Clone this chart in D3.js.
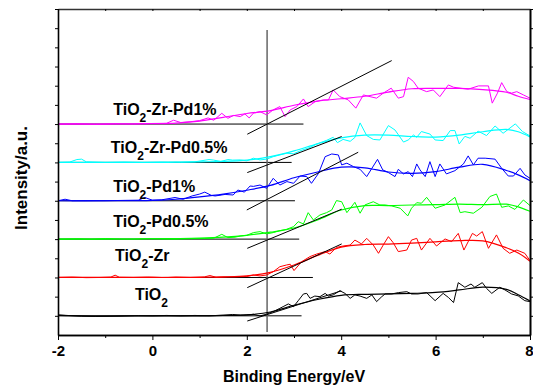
<!DOCTYPE html>
<html><head><meta charset="utf-8">
<script src="https://cdn.jsdelivr.net/npm/d3@7"></script>
<style>body{margin:0;background:#fff}svg{display:block}</style>
</head><body>
<svg id="c" width="533" height="392"></svg>
<script>
// ---------- data ----------
const xMajorTicks = [-2, 0, 2, 4, 6, 8];
const xMinorTicks = [-1, 1, 3, 5, 7];
const yTicks = [1,2,3,4,5,6,7,8,9,10,11,12,13,14,15,16,17];
const seriesNames = ["TiO2", "TiO2-Zr", "TiO2-Pd0.5%", "TiO2-Pd1%", "TiO2-Zr-Pd0.5%", "TiO2-Zr-Pd1%"];
const seriesColors = ["#000000", "#ff0000", "#00ff00", "#0000ff", "#00ffff", "#ff00ff"];

// smooth fit curves on a shared energy grid
const smoothX = [-2,-1,0,0.5,1,1.5,2,2.5,3,3.5,4,4.5,5,5.5,6,6.5,7,7.5,7.75,8];
const smoothTiO2     = [1.02,0.98,1.0,1.0,1.0,1.02,1.05,1.2,1.55,1.85,2.07,2.12,2.14,2.17,2.22,2.35,2.5,2.38,2.1,1.78];
const smoothZr       = [3.0,3.0,3.0,3.0,3.01,3.03,3.08,3.27,3.65,4.15,4.58,4.72,4.74,4.79,4.86,4.92,4.91,4.55,4.28,3.85];
const smoothPd05     = [5.0,5.0,5.02,5.03,5.05,5.1,5.2,5.36,5.58,6.0,6.52,6.75,6.75,6.78,6.8,6.83,6.8,6.82,6.68,6.45];
const smoothPd1      = [7.0,7.0,7.02,7.08,7.2,7.35,7.55,7.8,8.2,8.5,8.75,8.72,8.5,8.43,8.52,8.75,8.9,8.58,8.35,8.05];
const smoothZrPd05   = [9.0,9.0,9.0,9.01,9.03,9.05,9.12,9.3,9.6,9.97,10.28,10.42,10.42,10.35,10.32,10.42,10.6,10.72,10.6,10.33];
const smoothZrPd1    = [11.0,11.0,11.02,11.05,11.15,11.35,11.55,11.7,11.98,12.2,12.32,12.45,12.67,12.84,12.86,12.86,12.8,12.66,12.45,12.28];

// measured (noisy) spectra: [energy, intensity]
const dataTiO2 = [[-2,1.05],[-1.8,1.02],[-1.5,0.98],[-1.2,0.97],[-0.9,0.98],[-0.6,1.0],[-0.3,1.01],[0,1.0],[0.3,1.02],[0.6,1.0],[0.9,1.02],[1.2,1.0],[1.5,1.03],[1.7,1.07],[1.86,1.04],[2.0,1.05],[2.14,1.08],[2.28,0.99],[2.42,1.09],[2.56,1.22],[2.7,1.39],[2.77,1.48],[2.88,1.62],[2.99,1.48],[3.09,1.79],[3.2,2.14],[3.27,2.17],[3.34,1.91],[3.44,2.03],[3.55,2.0],[3.66,2.17],[3.73,2.03],[3.83,2.09],[3.97,2.31],[4.08,2.17],[4.19,1.91],[4.29,2.09],[4.4,2.03],[4.54,1.91],[4.65,2.09],[4.75,1.74],[4.86,2.0],[4.93,2.14],[5.07,2.14],[5.21,2.21],[5.39,2.26],[5.49,2.14],[5.63,2.14],[5.81,2.21],[5.99,1.79],[6.16,2.17],[6.27,1.96],[6.38,1.69],[6.48,2.73],[6.62,2.49],[6.75,2.66],[6.83,2.49],[6.99,2.73],[7.08,2.43],[7.19,2.17],[7.36,2.49],[7.47,2.35],[7.61,2.14],[7.75,2.04],[7.89,1.79],[8.0,1.74]];
const dataZr = [[-2,3.0],[-1.7,3.02],[-1.4,2.99],[-1.1,3.0],[-0.88,3.02],[-0.79,3.12],[-0.7,3.01],[-0.4,3.0],[-0.1,3.02],[0.2,3.0],[0.5,3.02],[0.8,3.0],[1.1,3.03],[1.22,3.1],[1.35,3.01],[1.6,3.03],[1.86,3.04],[2.0,3.05],[2.14,3.13],[2.28,3.08],[2.42,3.13],[2.56,3.3],[2.7,3.56],[2.84,3.65],[2.92,3.69],[3.0,3.36],[3.16,3.82],[3.34,4.09],[3.48,4.22],[3.66,4.35],[3.76,4.22],[3.9,4.57],[4.04,4.64],[4.19,4.69],[4.29,4.95],[4.43,4.75],[4.54,5.04],[4.68,4.69],[4.79,4.26],[4.89,4.69],[5.0,5.13],[5.1,4.82],[5.21,4.35],[5.39,4.43],[5.49,4.95],[5.6,5.04],[5.7,4.43],[5.88,5.04],[6.02,4.64],[6.2,5.01],[6.34,4.87],[6.48,5.3],[6.6,4.43],[6.78,5.3],[6.87,5.16],[6.99,5.39],[7.12,4.52],[7.29,5.22],[7.43,4.52],[7.57,4.26],[7.72,4.43],[7.89,4.26],[8.0,3.88]];
const dataPd05 = [[-2,5.0],[-1.6,5.02],[-1.3,5.0],[-1.0,5.03],[-0.7,5.01],[-0.4,5.0],[-0.1,5.02],[0.2,5.01],[0.5,5.0],[0.8,5.02],[1.1,5.03],[1.3,5.05],[1.47,5.25],[1.6,5.08],[1.75,5.1],[1.86,5.16],[2.0,5.2],[2.14,5.34],[2.28,5.39],[2.42,5.27],[2.56,5.34],[2.7,5.44],[2.84,5.51],[2.99,5.65],[3.09,5.91],[3.2,5.79],[3.3,6.38],[3.41,6.0],[3.55,6.26],[3.69,6.38],[3.8,6.52],[3.9,7.01],[4.01,6.95],[4.12,6.38],[4.29,6.92],[4.4,6.35],[4.5,6.78],[4.68,6.95],[4.82,6.78],[4.93,6.78],[5.07,6.73],[5.25,6.61],[5.41,6.21],[5.49,6.61],[5.6,6.9],[5.7,6.87],[5.81,7.18],[5.99,6.61],[6.2,6.78],[6.41,7.18],[6.52,6.38],[6.62,6.43],[6.8,6.35],[6.98,6.66],[7.15,7.22],[7.29,7.35],[7.4,6.66],[7.54,6.73],[7.68,6.55],[7.86,7.04],[8.0,6.75]];
const dataPd1 = [[-2,7.0],[-1.85,7.08],[-1.7,7.0],[-1.4,7.01],[-1.0,7.0],[-0.6,7.02],[-0.3,7.03],[-0.16,7.17],[0,7.03],[0.2,7.05],[0.48,7.17],[0.65,7.08],[0.84,7.25],[1.0,7.35],[1.11,7.45],[1.25,7.28],[1.33,7.25],[1.54,7.33],[1.71,7.3],[1.81,7.56],[1.95,7.45],[2.07,7.77],[2.14,7.75],[2.28,7.82],[2.42,7.65],[2.56,8.17],[2.7,7.82],[2.85,8.0],[2.99,7.91],[3.13,8.29],[3.27,8.26],[3.37,7.91],[3.52,8.43],[3.66,9.3],[3.8,9.44],[3.94,9.39],[4.01,8.87],[4.12,8.96],[4.26,8.78],[4.4,8.64],[4.54,8.26],[4.65,8.69],[4.77,9.16],[4.88,8.61],[5.0,8.47],[5.14,8.26],[5.21,8.64],[5.32,8.4],[5.42,8.52],[5.51,8.26],[5.6,8.92],[5.67,8.61],[5.78,8.26],[5.88,9.04],[5.99,8.26],[6.09,8.92],[6.23,8.4],[6.41,8.57],[6.59,8.92],[6.69,9.34],[6.8,8.87],[6.9,9.22],[7.05,9.22],[7.26,9.17],[7.4,8.69],[7.54,8.29],[7.65,8.29],[7.79,8.69],[7.89,8.35],[8.0,8.17]];
const dataZrPd05 = [[-2,9.0],[-1.75,9.02],[-1.6,9.15],[-1.5,9.17],[-1.4,9.03],[-1.0,9.0],[-0.6,9.02],[-0.2,9.0],[0.2,9.02],[0.6,9.01],[0.9,9.03],[1.2,9.15],[1.3,9.12],[1.45,9.05],[1.6,9.15],[1.7,9.12],[1.86,9.13],[2.0,9.08],[2.14,9.22],[2.28,9.13],[2.42,9.17],[2.56,9.3],[2.7,9.39],[2.85,9.48],[2.99,9.45],[3.15,9.62],[3.34,9.78],[3.48,9.96],[3.69,10.15],[3.83,10.31],[3.92,10.03],[4.04,10.2],[4.19,10.1],[4.29,10.3],[4.4,11.06],[4.54,10.4],[4.68,10.2],[4.82,10.17],[5.0,10.92],[5.14,10.69],[5.32,10.06],[5.42,10.17],[5.53,10.43],[5.6,10.31],[5.7,10.61],[5.88,10.48],[5.99,10.17],[6.16,10.14],[6.31,10.66],[6.41,10.66],[6.5,9.96],[6.62,10.36],[6.73,10.26],[6.9,10.63],[7.08,10.4],[7.26,10.9],[7.43,10.52],[7.69,11.01],[7.84,10.61],[8.0,10.38]];
const dataZrPd1 = [[-2,11.0],[-1.6,11.02],[-1.2,10.99],[-0.8,11.02],[-0.4,11.0],[0,11.03],[0.3,11.04],[0.45,11.2],[0.6,11.08],[0.8,11.12],[1.0,11.18],[1.18,11.32],[1.3,11.2],[1.47,11.56],[1.6,11.3],[1.72,11.45],[1.86,11.39],[1.96,11.53],[2.05,11.32],[2.14,11.57],[2.28,11.65],[2.42,11.48],[2.56,11.74],[2.7,11.91],[2.81,11.39],[2.92,11.74],[3.06,11.91],[3.2,12.31],[3.3,11.91],[3.45,12.17],[3.62,12.26],[3.73,12.26],[3.83,12.78],[3.97,12.43],[4.15,12.26],[4.31,11.83],[4.47,12.52],[4.61,12.43],[4.75,12.35],[4.89,12.61],[5.06,12.87],[5.21,12.35],[5.32,12.43],[5.42,13.44],[5.53,13.22],[5.63,12.87],[5.81,12.69],[5.95,12.78],[6.09,12.43],[6.27,13.04],[6.38,12.92],[6.52,12.87],[6.69,12.82],[6.91,12.99],[7.12,12.99],[7.2,12.09],[7.31,12.61],[7.4,13.16],[7.51,12.69],[7.61,12.61],[7.72,12.69],[7.86,12.52],[8.0,12.35]];

// band-edge construction lines: tangents [x1,y1,x2,y2] and baseline end energies
const tangents = [[2.01,0.73,4.0,2.3],[2.01,2.47,4.01,4.75],[2.01,4.52,4.01,6.56],[2.0,6.52,4.36,9.53],[2.01,8.47,4.01,10.35],[2.01,10.47,5.07,14.31]];
const baselineLevels = [1.0, 3.0, 5.0, 7.0, 9.0, 11.0];
const baselineEnds = [3.16, 3.40, 3.11, 3.02, 2.95, 3.20];
const edgeEnergy = 2.43;
const edgeRange = [0.15, 15.9];
// label anchor positions in data coordinates
const labelPos = [[-0.37,1.83],[-0.79,3.86],[-0.83,5.62],[-0.83,7.48],[-0.88,9.48],[-0.83,11.48]];

const smoothSets = [smoothTiO2, smoothZr, smoothPd05, smoothPd1, smoothZrPd05, smoothZrPd1];
const dataSets = [dataTiO2, dataZr, dataPd05, dataPd1, dataZrPd05, dataZrPd1];

// ---------- drawing ----------
const W = 533, H = 392;
const m = {l: 58, r: 3, t: 9, b: 57};
const svg = d3.select("#c");
const x = d3.scaleLinear().domain([-2, 8]).range([m.l, W - m.r]);
const y = d3.scaleLinear().domain([0, 17]).range([H - m.b, m.t]);
const FONT = "Arial, 'Liberation Sans', Helvetica, sans-serif";

svg.append("defs").append("clipPath").attr("id", "pc")
  .append("rect").attr("x", x(-2)).attr("y", y(17)).attr("width", x(8) - x(-2)).attr("height", y(0) - y(17));

const g = svg.append("g").attr("clip-path", "url(#pc)");

// construction lines
g.selectAll("line.base").data(baselineLevels).join("line")
  .attr("x1", x(-2)).attr("x2", (d, i) => x(baselineEnds[i]))
  .attr("y1", d => y(d)).attr("y2", d => y(d))
  .attr("stroke", "#000").attr("stroke-width", 1);

g.append("line")
  .attr("x1", x(edgeEnergy)).attr("x2", x(edgeEnergy))
  .attr("y1", y(edgeRange[0])).attr("y2", y(edgeRange[1]))
  .attr("stroke", "#666").attr("stroke-width", 1.5);

const lineData = d3.line().x(d => x(d[0])).y(d => y(d[1]));
const lineSmooth = d3.line().x(d => x(d[0])).y(d => y(d[1])).curve(d3.curveCatmullRom.alpha(0.5));

seriesNames.forEach((name, i) => {
  g.append("path").datum(smoothX.map((e, k) => [e, smoothSets[i][k]]))
    .attr("d", lineSmooth).attr("fill", "none").attr("stroke", seriesColors[i]).attr("stroke-width", 1.2);
  g.append("path").datum(dataSets[i])
    .attr("d", lineData).attr("fill", "none").attr("stroke", seriesColors[i]).attr("stroke-width", 1);
});

g.selectAll("line.tan").data(tangents).join("line")
  .attr("x1", d => x(d[0])).attr("y1", d => y(d[1]))
  .attr("x2", d => x(d[2])).attr("y2", d => y(d[3]))
  .attr("stroke", "#000").attr("stroke-width", 1);

// labels
seriesNames.forEach((name, i) => {
  const t = svg.append("text")
    .attr("x", x(labelPos[i][0])).attr("y", y(labelPos[i][1]))
    .attr("font-family", FONT).attr("font-weight", "bold").attr("font-size", 16).attr("fill", "#000");
  t.append("tspan").text("TiO");
  t.append("tspan").attr("font-size", 12).attr("dy", 7).text("2");
  t.append("tspan").attr("dy", -7).text(name.slice(4));
});

// axes
function styleAxis(sel) {
  sel.select(".domain").attr("stroke", "#000").attr("stroke-width", 1.6);
  sel.selectAll(".tick line").attr("stroke", "#000").attr("stroke-width", 1);
}
const gxMaj = svg.append("g").attr("transform", `translate(0,${y(0)})`)
  .call(d3.axisBottom(x).tickValues(xMajorTicks).tickSize(5).tickPadding(5).tickSizeOuter(0).tickFormat(d3.format("d")));
styleAxis(gxMaj);
gxMaj.selectAll("text").attr("font-family", FONT).attr("font-weight", "bold").attr("font-size", 15).attr("fill", "#000")
  .text(d => String(d).replace("\u2212", "-"));
// keep the last label inside the window
gxMaj.selectAll(".tick").filter(d => d === 8).select("text")
  .attr("text-anchor", "end").attr("x", W - x(8));
const gxMin = svg.append("g").attr("transform", `translate(0,${y(0)})`)
  .call(d3.axisBottom(x).tickValues(xMinorTicks).tickSize(3).tickSizeOuter(0).tickFormat(""));
styleAxis(gxMin);
const gxTop = svg.append("g").attr("transform", `translate(0,${y(17)})`)
  .call(d3.axisTop(x).tickValues(xMajorTicks.concat(xMinorTicks)).tickSize(-2).tickSizeOuter(0).tickFormat(""));
styleAxis(gxTop);
gxTop.select(".domain").attr("stroke", "#333").attr("stroke-width", 1.4);
const gyL = svg.append("g").attr("transform", `translate(${x(-2)},0)`)
  .call(d3.axisLeft(y).tickValues(yTicks).tickSize(3).tickSizeOuter(0).tickFormat(""));
styleAxis(gyL);
const gyR = svg.append("g").attr("transform", `translate(${x(8)},0)`)
  .call(d3.axisRight(y).tickValues(yTicks).tickSize(3).tickSizeOuter(0).tickFormat(""));
styleAxis(gyR);
gyR.select(".domain").attr("stroke-width", 2);

// axis titles
svg.append("text").attr("x", (x(-2) + x(8)) / 2).attr("y", 382)
  .attr("text-anchor", "middle").attr("font-family", FONT).attr("font-weight", "bold").attr("font-size", 16)
  .text("Binding Energy/eV");
svg.append("text").attr("transform", `translate(27,${178}) rotate(-90)`)
  .attr("text-anchor", "middle").attr("font-family", FONT).attr("font-weight", "bold").attr("font-size", 17)
  .text("Intensity/a.u.");
</script>
</body></html>
